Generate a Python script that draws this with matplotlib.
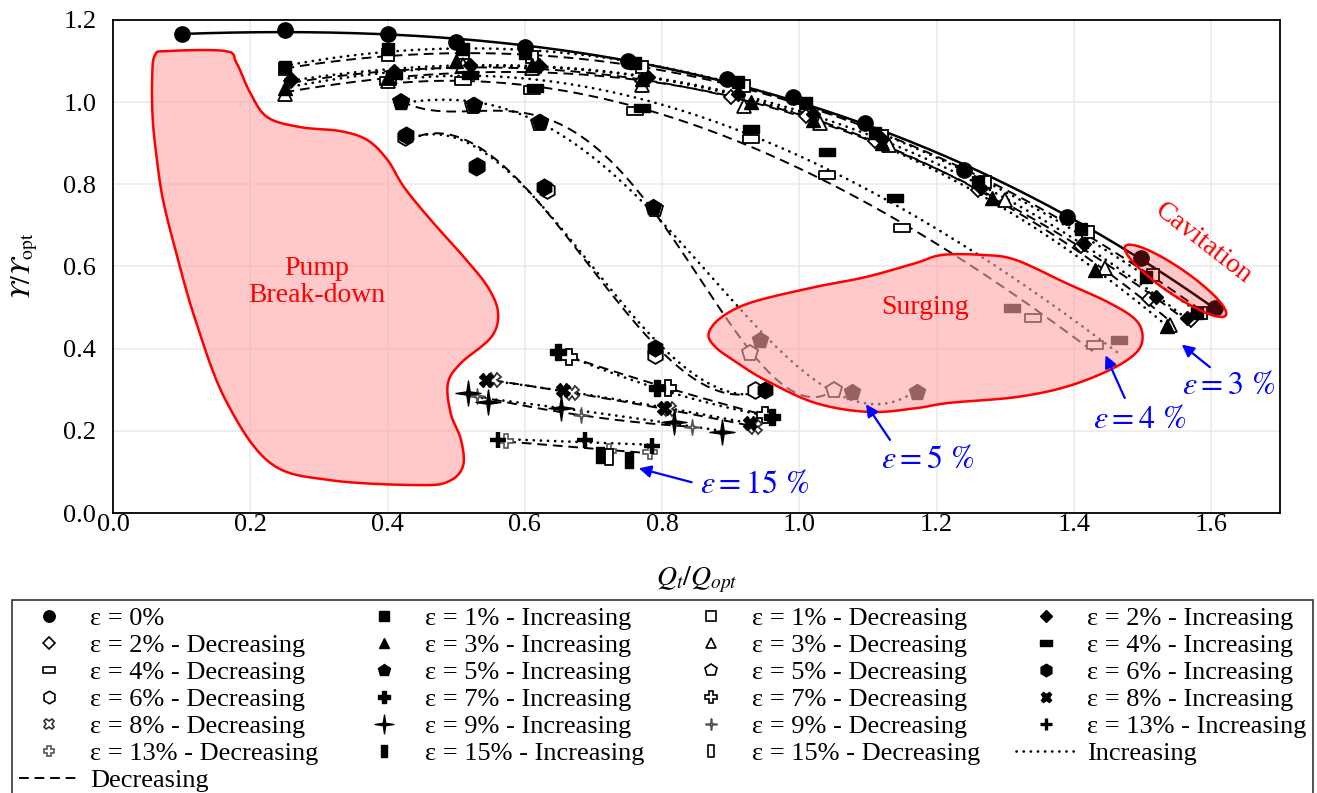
import numpy as np
import matplotlib
matplotlib.use("Agg")
import matplotlib.pyplot as plt
import matplotlib.transforms as mtransforms
from matplotlib.lines import Line2D
from matplotlib.path import Path
from matplotlib.patches import Polygon, Ellipse

plt.rcParams['font.family'] = ['Liberation Serif', 'DejaVu Serif']
plt.rcParams['mathtext.fontset'] = 'stix'

# Q_t/Q_opt and head ratio for every eccentricity, increasing / decreasing flow
q_e0 = [0.10, 0.25, 0.40, 0.50, 0.60, 0.75, 0.895, 0.99, 1.095, 1.24, 1.39, 1.497, 1.605]
y_e0 = [1.165, 1.175, 1.165, 1.145, 1.135, 1.10, 1.055, 1.012, 0.95, 0.835, 0.72, 0.62, 0.50]

q_e1_inc = [0.25, 0.40, 0.51, 0.60, 0.76, 0.91, 1.01, 1.11, 1.26, 1.41, 1.505, 1.58]
y_e1_inc = [1.085, 1.13, 1.13, 1.12, 1.095, 1.048, 0.998, 0.925, 0.805, 0.69, 0.575, 0.487]
q_e1_dec = [0.25, 0.40, 0.51, 0.61, 0.77, 0.92, 1.01, 1.12, 1.27, 1.42, 1.515, 1.585]
y_e1_dec = [1.08, 1.115, 1.12, 1.11, 1.085, 1.04, 0.99, 0.918, 0.805, 0.685, 0.579, 0.487]

q_e2_inc = [0.26, 0.41, 0.52, 0.62, 0.78, 0.91, 1.02, 1.12, 1.265, 1.415, 1.52, 1.565]
y_e2_inc = [1.055, 1.075, 1.09, 1.09, 1.06, 1.02, 0.97, 0.91, 0.79, 0.655, 0.526, 0.474]
q_e2_dec = [0.26, 0.41, 0.52, 0.62, 0.77, 0.90, 1.01, 1.11, 1.26, 1.41, 1.51, 1.57]
y_e2_dec = [1.05, 1.07, 1.085, 1.085, 1.05, 1.012, 0.965, 0.905, 0.785, 0.65, 0.52, 0.47]

q_e3_inc = [0.25, 0.40, 0.50, 0.61, 0.77, 0.93, 1.02, 1.12, 1.28, 1.43, 1.535]
y_e3_inc = [1.035, 1.06, 1.10, 1.09, 1.055, 1.0, 0.956, 0.90, 0.766, 0.591, 0.455]
q_e3_dec = [0.25, 0.40, 0.51, 0.61, 0.77, 0.92, 1.03, 1.13, 1.30, 1.445, 1.54]
y_e3_dec = [1.02, 1.05, 1.09, 1.083, 1.041, 0.99, 0.95, 0.895, 0.762, 0.596, 0.458]

q_e4_inc = [0.41, 0.52, 0.615, 0.77, 0.93, 1.04, 1.14, 1.31, 1.465]
y_e4_inc = [1.065, 1.065, 1.035, 0.985, 0.935, 0.878, 0.766, 0.50, 0.42]
q_e4_dec = [0.40, 0.51, 0.61, 0.76, 0.93, 1.04, 1.15, 1.34, 1.43]
y_e4_dec = [1.05, 1.05, 1.03, 0.978, 0.91, 0.822, 0.693, 0.474, 0.409]

q_e5_inc = [0.419, 0.526, 0.622, 0.787, 0.942, 1.077, 1.172]
y_e5_inc = [1.0, 0.993, 0.951, 0.745, 0.421, 0.294, 0.294]
q_e5_dec = [0.42, 0.525, 0.62, 0.79, 0.928, 1.05]
y_e5_dec = [1.0, 0.99, 0.95, 0.74, 0.389, 0.30]

q_e6_inc = [0.427, 0.529, 0.628, 0.789, 0.95]
y_e6_inc = [0.92, 0.842, 0.793, 0.401, 0.299]
q_e6_dec = [0.425, 0.53, 0.632, 0.789, 0.935]
y_e6_dec = [0.915, 0.845, 0.787, 0.385, 0.299]

q_e7_inc = [0.649, 0.792, 0.96]
y_e7_inc = [0.392, 0.304, 0.234]
q_e7_dec = [0.665, 0.809, 0.95]
y_e7_dec = [0.38, 0.304, 0.238]

q_e8_inc = [0.543, 0.656, 0.803, 0.928]
y_e8_inc = [0.323, 0.299, 0.255, 0.219]
q_e8_dec = [0.555, 0.668, 0.81, 0.935]
y_e8_dec = [0.323, 0.292, 0.252, 0.21]

q_e9_inc = [0.517, 0.546, 0.653, 0.817, 0.887]
y_e9_inc = [0.292, 0.27, 0.255, 0.222, 0.197]
q_e9_dec = [0.53, 0.682, 0.843]
y_e9_dec = [0.285, 0.238, 0.21]

q_e13_inc = [0.561, 0.687, 0.785]
y_e13_inc = [0.178, 0.178, 0.163]
q_e13_dec = [0.573, 0.723, 0.782]
y_e13_dec = [0.175, 0.15, 0.148]

q_e15_inc = [0.709, 0.752]
y_e15_inc = [0.141, 0.129]
q_e15_dec = [0.722]
y_e15_dec = [0.136]

# custom marker shapes
wide_rect = Path([(-1, -0.45), (1, -0.45), (1, 0.45), (-1, 0.45), (-1, -0.45)],
                 [Path.MOVETO, Path.LINETO, Path.LINETO, Path.LINETO, Path.CLOSEPOLY])
tall_rect = Path([(-0.5, -1), (0.5, -1), (0.5, 1), (-0.5, 1), (-0.5, -1)],
                 [Path.MOVETO, Path.LINETO, Path.LINETO, Path.LINETO, Path.CLOSEPOLY])
star4 = Path([(0, 1), (0.13, 0.13), (1, 0), (0.13, -0.13), (0, -1), (-0.13, -0.13),
              (-1, 0), (-0.13, 0.13), (0, 1)],
             [Path.MOVETO] + [Path.LINETO] * 7 + [Path.CLOSEPOLY])

# (label, q, y, marker, size, face, edge, mew, line kind, fit degree)
series = [
    ('ε = 0%', q_e0, y_e0, 'o', 11, 'k', 'k', 1, 'solid', 3),
    ('ε = 1% - Increasing', q_e1_inc, y_e1_inc, 's', 9, 'k', 'k', 1, 'inc', 3),
    ('ε = 1% - Decreasing', q_e1_dec, y_e1_dec, 's', 9, 'w', 'k', 1.3, 'dec', 3),
    ('ε = 2% - Increasing', q_e2_inc, y_e2_inc, 'D', 7.5, 'k', 'k', 1, 'inc', 3),
    ('ε = 2% - Decreasing', q_e2_dec, y_e2_dec, 'D', 7.5, 'w', 'k', 1.3, 'dec', 3),
    ('ε = 3% - Increasing', q_e3_inc, y_e3_inc, '^', 10, 'k', 'k', 1, 'inc', 3),
    ('ε = 3% - Decreasing', q_e3_dec, y_e3_dec, '^', 10, 'w', 'k', 1.3, 'dec', 3),
    ('ε = 4% - Increasing', q_e4_inc, y_e4_inc, wide_rect, 12, 'k', 'k', 1, 'inc', 3),
    ('ε = 4% - Decreasing', q_e4_dec, y_e4_dec, wide_rect, 12, 'w', 'k', 1.3, 'dec', 3),
    ('ε = 5% - Increasing', q_e5_inc, y_e5_inc, 'p', 12, 'k', 'k', 1, 'inc', 4),
    ('ε = 5% - Decreasing', q_e5_dec, y_e5_dec, 'p', 12, 'w', 'k', 1.3, 'dec', 4),
    ('ε = 6% - Increasing', q_e6_inc, y_e6_inc, 'h', 12, 'k', 'k', 1, 'inc', 3),
    ('ε = 6% - Decreasing', q_e6_dec, y_e6_dec, 'h', 12, 'w', 'k', 1.3, 'dec', 3),
    ('ε = 7% - Increasing', q_e7_inc, y_e7_inc, 'P', 12, 'k', 'k', 1, 'inc', 2),
    ('ε = 7% - Decreasing', q_e7_dec, y_e7_dec, 'P', 12, 'w', 'k', 1.3, 'dec', 2),
    ('ε = 8% - Increasing', q_e8_inc, y_e8_inc, 'X', 10, 'k', 'k', 1, 'inc', 2),
    ('ε = 8% - Decreasing', q_e8_dec, y_e8_dec, 'X', 10, 'w', '#333333', 1.3, 'dec', 2),
    ('ε = 9% - Increasing', q_e9_inc, y_e9_inc, star4, 18, 'k', 'k', 1, 'inc', 2),
    ('ε = 9% - Decreasing', q_e9_dec, y_e9_dec, star4, 11, 'w', '#555555', 1.2, 'dec', 2),
    ('ε = 13% - Increasing', q_e13_inc, y_e13_inc, '+', 12, 'k', 'k', 3.2, 'inc', 1),
    ('ε = 13% - Decreasing', q_e13_dec, y_e13_dec, 'P', 10, 'w', '#555555', 1.2, 'dec', 1),
    ('ε = 15% - Increasing', q_e15_inc, y_e15_inc, tall_rect, 11, 'k', 'k', 1, None, 0),
    ('ε = 15% - Decreasing', q_e15_dec, y_e15_dec, tall_rect, 11, 'w', 'k', 1.3, None, 0),
]

line_styles = {
    'solid': dict(linestyle='-', linewidth=1.8),
    'inc': dict(linestyle=(0, (0.1, 2.6)), linewidth=1.9, dash_capstyle='round'),
    'dec': dict(linestyle=(0, (5, 3)), linewidth=1.4),
}


def smooth_outline(verts, n=12):
    # closed Catmull-Rom pass so the hand-drawn regions get round corners
    p = np.asarray(verts, dtype=float)
    out = []
    m = len(p)
    for i in range(m):
        p0, p1, p2, p3 = p[i - 1], p[i], p[(i + 1) % m], p[(i + 2) % m]
        for t in np.linspace(0, 1, n, endpoint=False):
            t2, t3 = t * t, t * t * t
            out.append(0.5 * ((2 * p1) + (-p0 + p2) * t + (2 * p0 - 5 * p1 + 4 * p2 - p3) * t2
                              + (-p0 + 3 * p1 - 3 * p2 + p3) * t3))
    return np.array(out)


fig = plt.figure(figsize=(13.17, 7.93), dpi=100)
ax = fig.add_axes([0.0858, 0.353, 0.886, 0.622])

handles = []
for label, q, y, mk, ms, fc, ec, mew, kind, deg in series:
    if kind is not None:
        coef = np.polyfit(q, y, deg)
        qs = np.linspace(min(q), max(q), 300)
        ax.plot(qs, np.polyval(coef, qs), color='k', zorder=2, **line_styles[kind])
    # filled (increasing) markers sit on top of the hollow ones
    ax.plot(q, y, linestyle='none', marker=mk, markersize=ms, markerfacecolor=fc,
            markeredgecolor=ec, markeredgewidth=mew, zorder=3.5 if fc == 'k' else 3)
    handles.append(Line2D([], [], linestyle='none', marker=mk, markersize=ms * 0.75,
                          markerfacecolor=fc, markeredgecolor=ec,
                          markeredgewidth=min(mew, 1.2) if mk != '+' else 2.4, label=label))
handles.append(Line2D([], [], color='k', label='Increasing', **line_styles['inc']))
handles.append(Line2D([], [], color='k', label='Decreasing', **line_styles['dec']))

# operating regions
breakdown = [(0.061, 1.114), (0.080, 1.124), (0.164, 1.124), (0.180, 1.095), (0.200, 1.022),
             (0.225, 0.963), (0.273, 0.939), (0.332, 0.929), (0.371, 0.907), (0.400, 0.859),
             (0.424, 0.793), (0.463, 0.713), (0.511, 0.623), (0.546, 0.550), (0.561, 0.487),
             (0.551, 0.428), (0.507, 0.365), (0.488, 0.316), (0.492, 0.243), (0.507, 0.178),
             (0.510, 0.115), (0.490, 0.078), (0.448, 0.068), (0.317, 0.080), (0.229, 0.122),
             (0.164, 0.275), (0.120, 0.470), (0.091, 0.640), (0.073, 0.761), (0.064, 0.859),
             (0.058, 0.956), (0.057, 1.054)]
surging = [(0.868, 0.438), (0.877, 0.405), (0.910, 0.365), (0.950, 0.324), (1.023, 0.268),
           (1.101, 0.246), (1.169, 0.255), (1.218, 0.268), (1.315, 0.282), (1.388, 0.307),
           (1.452, 0.348), (1.490, 0.389), (1.500, 0.428), (1.490, 0.470), (1.452, 0.511),
           (1.388, 0.560), (1.315, 0.616), (1.267, 0.628), (1.208, 0.628), (1.169, 0.608),
           (1.096, 0.574), (1.023, 0.550), (0.931, 0.513), (0.887, 0.477)]
for verts in (breakdown, surging):
    outline = smooth_outline(verts)
    ax.add_patch(Polygon(outline, closed=True, facecolor='#ffa5a5', alpha=0.6,
                         edgecolor='none', zorder=4))
    ax.add_patch(Polygon(outline, closed=True, facecolor='none', edgecolor='red',
                         linewidth=1.8, zorder=4, joinstyle='round'))

cav_tr = fig.dpi_scale_trans + mtransforms.ScaledTranslation(1.548, 0.565, ax.transData)
ax.add_patch(Ellipse((0, 0), 1.22, 0.26, angle=-34.5, transform=cav_tr,
                     facecolor='#ff2424', alpha=0.25, edgecolor='none', zorder=4))
ax.add_patch(Ellipse((0, 0), 1.22, 0.26, angle=-34.5, transform=cav_tr,
                     facecolor='none', edgecolor='red', linewidth=1.8, zorder=4))

ax.text(0.297, 0.562, 'Pump\nBreak-down', color='red', fontsize=20, ha='center',
        va='center', linespacing=1.15, zorder=6)
ax.text(1.183, 0.501, 'Surging', color='red', fontsize=20, ha='center', va='center', zorder=6)
ax.text(1.588, 0.655, 'Cavitation', color='red', fontsize=20, ha='center', va='center',
        rotation=-38, rotation_mode='anchor', zorder=6)

# eccentricity call-outs
callouts = [
    (r'$\varepsilon = 3\ \%$', (1.557, 0.41), (1.598, 0.355), (1.625, 0.308)),
    (r'$\varepsilon = 4\ \%$', (1.446, 0.384), (1.474, 0.28), (1.496, 0.224)),
    (r'$\varepsilon = 5\ \%$', (1.097, 0.265), (1.132, 0.178), (1.186, 0.129)),
    (r'$\varepsilon = 15\ \%$', (0.766, 0.109), (0.843, 0.075), (0.935, 0.066)),
]
for txt, head, tail, pos in callouts:
    ax.annotate('', xy=head, xytext=tail, zorder=6,
                arrowprops=dict(arrowstyle='-|>', color='blue', lw=1.6, mutation_scale=18,
                                shrinkA=0, shrinkB=0))
    ax.text(pos[0], pos[1], txt, color='blue', fontsize=23, ha='center', va='center', zorder=6)

ax.set_xlim(0, 1.7)
ax.set_ylim(0, 1.2)
ax.set_xticks(np.arange(0, 1.61, 0.2))
ax.set_yticks(np.arange(0, 1.21, 0.2))
ax.set_xticklabels([f'{v:.1f}' for v in np.arange(0, 1.61, 0.2)])
ax.set_yticklabels([f'{v:.1f}' for v in np.arange(0, 1.21, 0.2)])
ax.tick_params(length=0, labelsize=19)
ax.tick_params(axis='x', pad=1)
ax.tick_params(axis='y', pad=12)
ax.grid(True, color='#ebebeb', linewidth=1.2)
ax.set_axisbelow(True)
for sp in ax.spines.values():
    sp.set_linewidth(1.3)
ax.set_xlabel(r'$Q_t/Q_{opt}$', fontsize=20, labelpad=20)
ax.set_ylabel(r'$ϒ/ϒ_{\mathrm{opt}}$', fontsize=20, labelpad=17)

# legend reads row by row across four columns
ncol = 4
ordered = [handles[i] for c in range(ncol) for i in range(c, len(handles), ncol)]
leg = fig.legend(handles=ordered, ncol=ncol, loc='upper left',
                 bbox_to_anchor=(12 / 1317, 0, 1301 / 1317, 1 - 600 / 793), mode='expand',
                 borderaxespad=0, fontsize=19, frameon=True, fancybox=False,
                 edgecolor='k', labelspacing=0.135, handlelength=2.3, handletextpad=0.4,
                 borderpad=0.25, columnspacing=0.8)
leg.get_frame().set_linewidth(1.2)

fig.savefig('out.png', dpi=100)
